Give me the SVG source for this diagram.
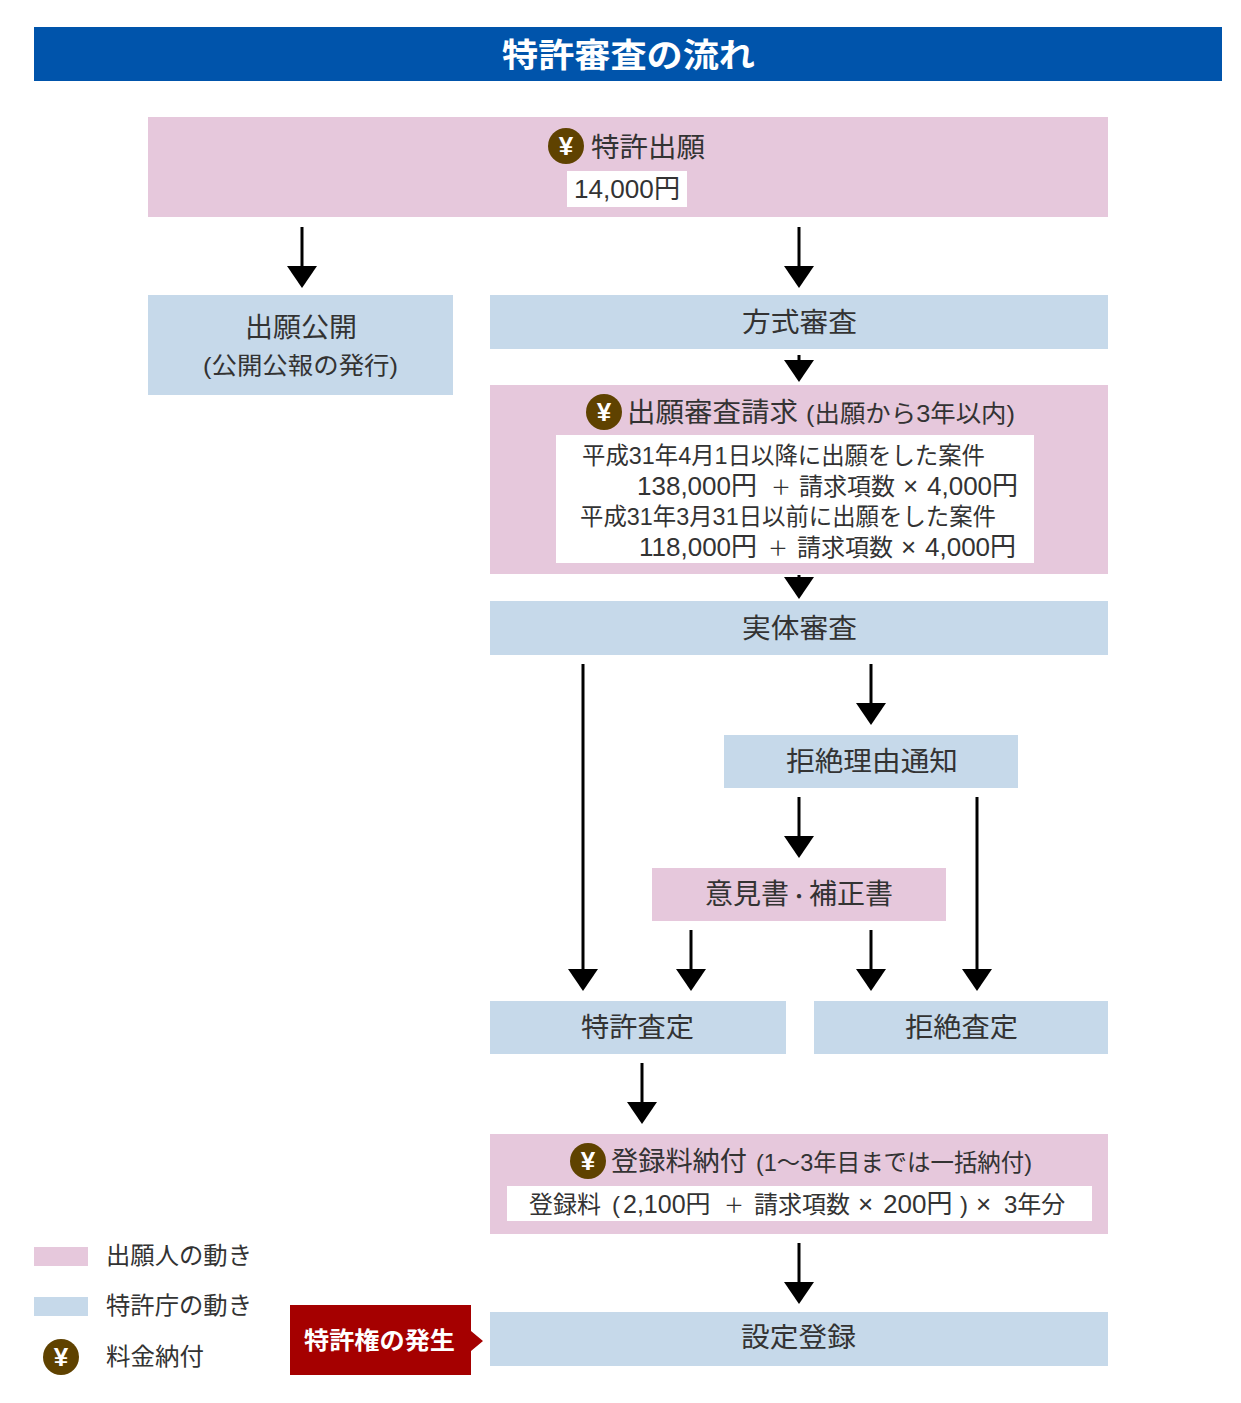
<svg xmlns="http://www.w3.org/2000/svg" width="1241" height="1403" viewBox="0 0 1241 1403">
<style>
text{font-family:"Liberation Sans","Noto Sans CJK JP",sans-serif;fill:#333;font-weight:400}
.pink{fill:#e6c8dc}.blue{fill:#c6d9ea}.white{fill:#fff}
.t28{font-size:27px}.t25{font-size:24px}.t23{font-size:23.5px}
.amt{font-size:26px}
.w{fill:#fff;font-weight:700}
.yc{fill:#5f4200}.yt{fill:#fff;font-size:26px;font-weight:700;text-anchor:middle}
.c line{stroke:#000;stroke-width:3;marker-end:url(#ah)}
</style>
<defs>
<marker id="ah" markerUnits="userSpaceOnUse" markerWidth="23" markerHeight="32" viewBox="0 0 23 32" refX="1" refY="16" orient="auto"><path d="M1 1L23 16L1 31z" fill="#000"/></marker>
<g id="yen"><circle r="18" class="yc"/><text y="9" class="yt">¥</text></g>
</defs>
<rect width="1241" height="1403" fill="#fff"/>
<g id="title"><rect x="34" y="27" width="1188" height="54" fill="#0054ab"/><text x="502" y="67" class="w" font-size="33" textLength="253" lengthAdjust="spacingAndGlyphs">特許審査の流れ</text></g>
<g id="n-application"><rect x="148" y="117" width="960" height="100" class="pink"/><use href="#yen" x="566" y="146"/><text x="591" y="157" class="t28" textLength="114" lengthAdjust="spacingAndGlyphs">特許出願</text><rect x="567" y="171" width="120" height="36" class="white"/><text x="574" y="198" class="amt" textLength="106" lengthAdjust="spacingAndGlyphs">14,000円</text></g>
<g id="n-publication"><rect x="148" y="295" width="305" height="100" class="blue"/><text x="245" y="337" class="t28" textLength="112" lengthAdjust="spacingAndGlyphs">出願公開</text><text x="203" y="374" class="t25" textLength="195" lengthAdjust="spacingAndGlyphs">(公開公報の発行)</text></g>
<g id="n-formal"><rect x="490" y="295" width="618" height="54" class="blue"/><text x="742" y="332" class="t28" textLength="115" lengthAdjust="spacingAndGlyphs">方式審査</text></g>
<g id="n-request"><rect x="490" y="385" width="618" height="189" class="pink"/><use href="#yen" x="604" y="412"/><text x="627" y="422" class="t28" textLength="171" lengthAdjust="spacingAndGlyphs">出願審査請求</text><text x="806" y="422" class="t25" textLength="209" lengthAdjust="spacingAndGlyphs">(出願から3年以内)</text><rect x="556" y="435" width="478" height="128" class="white"/>
<text x="582" y="464" class="t23" textLength="403" lengthAdjust="spacingAndGlyphs">平成31年4月1日以降に出願をした案件</text>
<text y="495" class="t25"><tspan x="637" class="amt">138,000円</tspan> <tspan x="771" font-size="20">＋</tspan> <tspan x="799">請求項数</tspan> <tspan x="903" class="amt">×</tspan> <tspan x="927" class="amt">4,000円</tspan></text>
<text x="580" y="525" class="t23" textLength="416" lengthAdjust="spacingAndGlyphs">平成31年3月31日以前に出願をした案件</text>
<text y="556" class="t25"><tspan x="639" class="amt">118,000円</tspan> <tspan x="768" font-size="20">＋</tspan> <tspan x="797">請求項数</tspan> <tspan x="901" class="amt">×</tspan> <tspan x="925" class="amt">4,000円</tspan></text></g>
<g id="n-substantive"><rect x="490" y="601" width="618" height="54" class="blue"/><text x="742" y="638" class="t28" textLength="115" lengthAdjust="spacingAndGlyphs">実体審査</text></g>
<g id="n-refusal-notice"><rect x="724" y="735" width="294" height="53" class="blue"/><text x="786" y="771" class="t28" textLength="172" lengthAdjust="spacingAndGlyphs">拒絶理由通知</text></g>
<g id="n-opinion"><rect x="652" y="868" width="294" height="53" class="pink"/><text y="904" font-size="28"><tspan x="705">意見書</tspan><tspan x="789" font-size="20">・</tspan><tspan x="809">補正書</tspan></text></g>
<g id="n-grant"><rect x="490" y="1001" width="296" height="53" class="blue"/><text x="581" y="1037" class="t28" textLength="113" lengthAdjust="spacingAndGlyphs">特許査定</text></g>
<g id="n-refusal"><rect x="814" y="1001" width="294" height="53" class="blue"/><text x="905" y="1037" class="t28" textLength="113" lengthAdjust="spacingAndGlyphs">拒絶査定</text></g>
<g id="n-fee"><rect x="490" y="1134" width="618" height="100" class="pink"/><use href="#yen" x="588" y="1161"/><text x="611" y="1171" class="t28" textLength="136" lengthAdjust="spacingAndGlyphs">登録料納付</text><text x="756" y="1171" class="t25" textLength="276" lengthAdjust="spacingAndGlyphs">(1～3年目までは一括納付)</text><rect x="507" y="1186" width="585" height="35" class="white"/><text y="1213" class="t25"><tspan x="529">登録料</tspan> <tspan x="612">(</tspan> <tspan x="623" font-size="25">2,100円</tspan> <tspan x="724" font-size="20">＋</tspan> <tspan x="754">請求項数</tspan> <tspan x="858" class="amt">×</tspan> <tspan x="883" class="amt">200円</tspan> <tspan x="960">)</tspan> <tspan x="976" class="amt">×</tspan> <tspan x="1004">3年分</tspan></text></g>
<g id="n-registration"><rect x="490" y="1312" width="618" height="54" class="blue"/><text x="741" y="1347" class="t28" textLength="115" lengthAdjust="spacingAndGlyphs">設定登録</text></g>
<g id="n-right"><path d="M290 1305H471V1331L483 1341L471 1351V1375H290z" fill="#a50000"/><text x="304" y="1349" class="w" font-size="24" textLength="151" lengthAdjust="spacingAndGlyphs">特許権の発生</text></g>
<g id="legend"><rect x="34" y="1247" width="54" height="19" class="pink"/><text x="106" y="1264" font-size="24" textLength="146" lengthAdjust="spacingAndGlyphs">出願人の動き</text><rect x="34" y="1297" width="54" height="19" class="blue"/><text x="106" y="1314" font-size="24" textLength="146" lengthAdjust="spacingAndGlyphs">特許庁の動き</text><use href="#yen" x="61" y="1357"/><text x="106" y="1365" font-size="24" textLength="98" lengthAdjust="spacingAndGlyphs">料金納付</text></g>
<g id="connectors" class="c">
<line x1="302" y1="227" x2="302" y2="266"/>
<line x1="799" y1="227" x2="799" y2="266"/>
<line x1="799" y1="355" x2="799" y2="360"/>
<line x1="799" y1="575" x2="799" y2="577"/>
<line x1="871" y1="664" x2="871" y2="703"/>
<line x1="583" y1="664" x2="583" y2="969"/>
<line x1="799" y1="797" x2="799" y2="836"/>
<line x1="977" y1="797" x2="977" y2="969"/>
<line x1="691" y1="930" x2="691" y2="969"/>
<line x1="871" y1="930" x2="871" y2="969"/>
<line x1="642" y1="1063" x2="642" y2="1102"/>
<line x1="799" y1="1243" x2="799" y2="1282"/>
</g>
</svg>
